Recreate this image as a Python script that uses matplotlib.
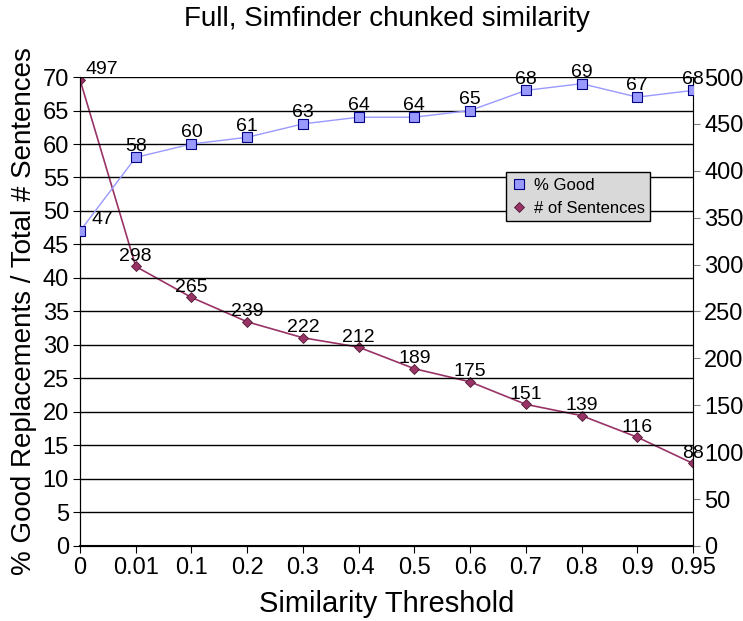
import numpy as np
import matplotlib.pyplot as plt

thresholds = ["0", "0.01", "0.1", "0.2", "0.3", "0.4", "0.5", "0.6", "0.7", "0.8", "0.9", "0.95"]
pct_good = [47, 58, 60, 61, 63, 64, 64, 65, 68, 69, 67, 68]
num_sentences = [497, 298, 265, 239, 222, 212, 189, 175, 151, 139, 116, 88]

plt.rcParams['font.family'] = ['Liberation Sans', 'DejaVu Sans']

fig = plt.figure(figsize=(7.43, 6.21), dpi=100)
ax = fig.add_axes([0.1077, 0.1208, 0.825, 0.7552])
ax2 = ax.twinx()

x = np.arange(len(thresholds))
good_color = "#9999ff"
sent_color = "#993366"

# horizontal gridlines from the left axis
for v in range(5, 75, 5):
    ax.axhline(v, color="black", linewidth=1, zorder=0)

l1, = ax.plot(x, pct_good, color=good_color, linewidth=1, marker="s", markersize=7,
              markerfacecolor=good_color, markeredgecolor="#000080", markeredgewidth=0.8,
              label="% Good", zorder=3)
l2, = ax2.plot(x, num_sentences, color=sent_color, linewidth=1.2, marker="D", markersize=5,
               markerfacecolor=sent_color, markeredgecolor="#4d1a33", markeredgewidth=0.6,
               label="# of Sentences", zorder=3)

# value labels above each point, first ones nudged right off the axis
for i, v in enumerate(pct_good):
    dx = 8 if i == 0 else 0
    ax.annotate(str(v), (x[i], v), xytext=(dx, 2), textcoords="offset points",
                ha="center" if i else "left", va="bottom", fontsize=14)
for i, v in enumerate(num_sentences):
    dx = 4 if i == 0 else 0
    ax2.annotate(str(v), (x[i], v), xytext=(dx, 1), textcoords="offset points",
                 ha="center" if i else "left", va="bottom", fontsize=14)

ax.set_xlim(0, len(thresholds) - 1)
ax.set_ylim(0, 70)
ax2.set_ylim(0, 500)
ax.set_xticks(x)
ax.set_xticklabels(thresholds)
ax.set_yticks(range(0, 75, 5))
ax2.set_yticks(range(0, 550, 50))

ax.tick_params(axis="both", labelsize=17, direction="out", length=5, pad=3)
ax2.tick_params(axis="y", labelsize=17, direction="out", length=5, colors="black", pad=3)
ax2.tick_params(axis="y", color="gray")

ax.spines["top"].set_visible(False)
ax2.spines["top"].set_visible(False)
ax2.spines["right"].set_color("gray")
ax.spines["bottom"].set_linewidth(1.5)

ax.set_xlabel("Similarity Threshold", fontsize=21, labelpad=8)
ax.set_ylabel("% Good Replacements / Total # Sentences", fontsize=20, labelpad=4)
ax.set_title("Full, Simfinder chunked similarity", fontsize=20, pad=37)

ax.set_zorder(ax2.get_zorder() + 1)
ax.patch.set_visible(False)

leg = ax.legend(handles=[l1, l2], loc="upper left", bbox_to_anchor=(0.695, 0.797),
                fontsize=12, frameon=True, fancybox=False, handlelength=0.8,
                borderpad=0.35, labelspacing=0.45, handletextpad=0.5, borderaxespad=0)
leg.get_frame().set_facecolor("#d9d9d9")
leg.get_frame().set_edgecolor("black")
leg.get_frame().set_alpha(1)
for h in leg.legend_handles:
    h.set_linestyle("none")

fig.savefig("out.png", dpi=100)
